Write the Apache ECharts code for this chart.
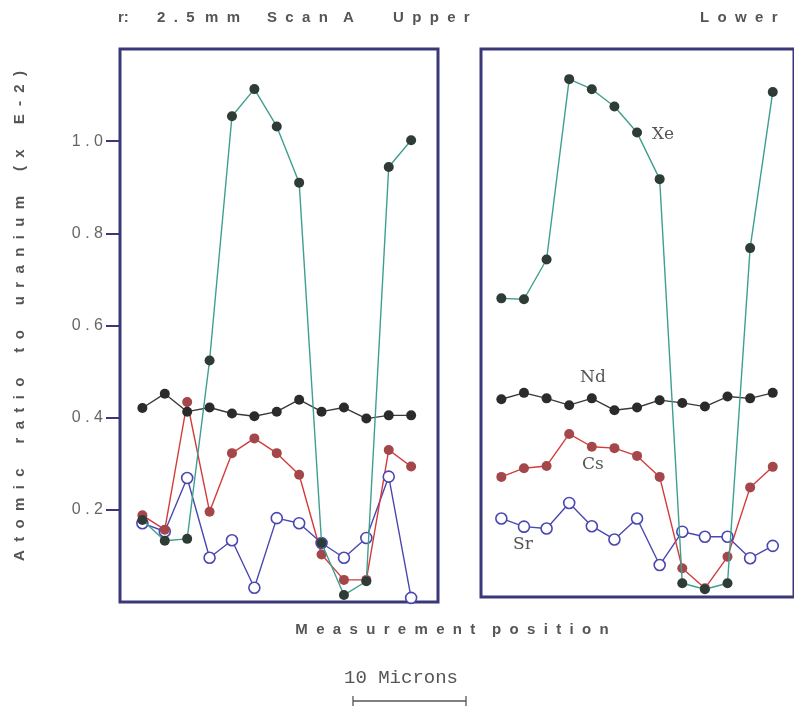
<!DOCTYPE html>
<html>
<head>
<meta charset="utf-8">
<script src="https://cdn.jsdelivr.net/npm/echarts@6/dist/echarts.min.js"></script>
<style>
  html, body { margin: 0; padding: 0; background: #fff; }
  #chart { width: 794px; height: 709px; }
</style>
</head>
<body>
<div id="chart"></div>
<script>
// measurement index along the scan
const positions = [0, 1, 2, 3, 4, 5, 6, 7, 8, 9, 10, 11, 12]
const yTicks = [0.2, 0.4, 0.6, 0.8, 1.0]

// upper half of scan A
const upperXe = [0.178, 0.133, 0.137, 0.524, 1.054, 1.113, 1.032, 0.910, 0.128, 0.015, 0.045, 0.944, 1.002]
const upperNd = [0.421, 0.452, 0.413, 0.422, 0.409, 0.403, 0.413, 0.439, 0.413, 0.422, 0.398, 0.405, 0.405]
const upperCs = [0.188, 0.157, 0.434, 0.196, 0.323, 0.355, 0.323, 0.276, 0.103, 0.048, 0.048, 0.330, 0.294]
const upperSr = [0.171, 0.153, 0.269, 0.096, 0.134, 0.031, 0.182, 0.171, 0.128, 0.096, 0.139, 0.272, 0.009]

// lower half of scan A
const lowerXe = [0.654, 0.652, 0.739, 1.134, 1.112, 1.074, 1.017, 0.915, 0.030, 0.017, 0.030, 0.764, 1.106]
const lowerNd = [0.433, 0.447, 0.435, 0.420, 0.435, 0.409, 0.415, 0.431, 0.425, 0.417, 0.439, 0.435, 0.447]
const lowerCs = [0.263, 0.282, 0.287, 0.357, 0.329, 0.326, 0.309, 0.263, 0.063, 0.019, 0.088, 0.240, 0.285]
const lowerSr = [0.172, 0.154, 0.150, 0.206, 0.155, 0.126, 0.172, 0.070, 0.143, 0.132, 0.132, 0.085, 0.112]

const frameColor = '#3b3878'
const textColor = '#555'
const sans = '"Liberation Sans", Arial, sans-serif'
const serif = '"DejaVu Serif", serif'

// old typewriter look: letters pulled apart with two spaces
const spread = (word) => word.split('').join('  ')

const pairs = (vals) => positions.map((p, i) => [p, vals[i]])

const styles = {
  Xe: { line: '#3f9e90', dot: '#2f3b35', hollow: false },
  Nd: { line: '#3a3a3a', dot: '#2b2b2b', hollow: false },
  Cs: { line: '#d23c3c', dot: '#a4474a', hollow: false },
  Sr: { line: '#4a48b0', dot: '#4a48b0', hollow: true },
}

const makeSeries = (name, vals, idx) => {
  const s = styles[name]
  return {
    name: name,
    type: 'line',
    xAxisIndex: idx,
    yAxisIndex: idx,
    data: pairs(vals),
    symbol: 'circle',
    symbolSize: s.hollow ? 11 : 10,
    lineStyle: { color: s.line, width: 1.4 },
    itemStyle: s.hollow
      ? { color: '#fff', borderColor: s.dot, borderWidth: 1.6 }
      : { color: s.dot },
    z: name === 'Xe' ? 3 : 2,
  }
}

const txt = (text, x, y, extra) => ({
  type: 'text', x: x, y: y,
  style: Object.assign({ text: text, font: 'bold 15px ' + sans, fill: textColor, verticalAlign: 'middle' }, extra || {}),
})

const chart = echarts.init(document.getElementById('chart'))

const option = {
  backgroundColor: '#fff',
  animation: false,
  grid: [
    { left: 120, top: 49, width: 318, height: 553, show: true, borderColor: frameColor, borderWidth: 3 },
    { left: 481, top: 49, width: 318, height: 548, show: true, borderColor: frameColor, borderWidth: 3 },
  ],
  xAxis: [
    { type: 'value', gridIndex: 0, min: -1, max: 13.2, show: false },
    { type: 'value', gridIndex: 1, min: -0.9, max: 12.94, show: false },
  ],
  yAxis: [
    {
      type: 'value',
      gridIndex: 0,
      min: 0,
      max: 1.2,
      interval: 0.2,
      splitLine: { show: false },
      axisLine: { show: false, onZero: false },
      axisTick: { show: true, length: 14, customValues: yTicks, lineStyle: { color: frameColor, width: 2 } },
      axisLabel: {
        customValues: yTicks,
        margin: 17,
        color: '#666',
        fontSize: 16,
        fontFamily: sans,
        formatter: (v) => v.toFixed(1).split('').join(' '),
      },
    },
    { type: 'value', gridIndex: 1, min: 0, max: 1.2, show: false, splitLine: { show: false } },
  ],
  series: [
    makeSeries('Sr', upperSr, 0),
    makeSeries('Cs', upperCs, 0),
    makeSeries('Nd', upperNd, 0),
    makeSeries('Xe', upperXe, 0),
    makeSeries('Sr', lowerSr, 1),
    makeSeries('Cs', lowerCs, 1),
    makeSeries('Nd', lowerNd, 1),
    makeSeries('Xe', lowerXe, 1),
  ],
  graphic: [
    // header pieces
    txt('r:', 118, 18),
    txt(spread('2.5'), 157, 18),
    txt(spread('mm'), 205, 18),
    txt(spread('Scan'), 267, 18),
    txt('A', 343, 18),
    txt(spread('Upper'), 393, 18),
    txt(spread('Lower'), 700, 18),
    // y axis title
    {
      type: 'text', x: 20, y: 316, rotation: Math.PI / 2,
      style: {
        text: ['Atomic', 'ratio', 'to', 'uranium', '(x', 'E-2)'].map(spread).join('      '),
        font: 'bold 15px ' + sans, fill: textColor, align: 'center', verticalAlign: 'middle',
      },
    },
    // x axis title
    txt(['Measurement', 'position'].map(spread).join('    '), 452, 630, { align: 'center' }),
    // scale bar
    txt('10 Microns', 401, 678, { font: '19px "Liberation Mono", monospace', align: 'center' }),
    { type: 'line', shape: { x1: 353, y1: 701, x2: 466, y2: 701 }, style: { stroke: '#555', lineWidth: 1.3 } },
    { type: 'line', shape: { x1: 353, y1: 696, x2: 353, y2: 706 }, style: { stroke: '#555', lineWidth: 1.3 } },
    { type: 'line', shape: { x1: 466, y1: 696, x2: 466, y2: 706 }, style: { stroke: '#555', lineWidth: 1.3 } },
    // element labels
    txt('Xe', 652, 135, { font: '17px ' + serif }),
    txt('Nd', 580, 378, { font: '17px ' + serif }),
    txt('Cs', 582, 465, { font: '17px ' + serif }),
    txt('Sr', 513, 545, { font: '17px ' + serif }),
  ],
}

chart.setOption(option)
</script>
</body>
</html>
